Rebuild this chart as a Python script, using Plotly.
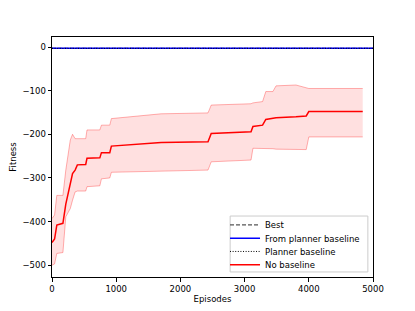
import plotly.graph_objects as go

episodes = [0, 40, 75, 170, 215, 255, 285, 320, 360, 395, 525, 545, 745, 770, 900, 925,
            1700, 2430, 2480, 3100, 3130, 3280, 3330, 3440, 3490, 3800, 3960, 4000, 4840]
mean_no_baseline = [-448, -440, -408, -404, -360, -335, -317, -290, -282, -270, -269, -255, -254, -242, -242, -227,
                    -219, -217, -198, -194, -182, -179, -166, -164, -162, -160, -158, -148, -148]
upper_no_baseline = [-393, -385, -340, -340, -282, -240, -213, -200, -210, -210, -210, -190, -190, -179, -179, -164,
                     -153, -151, -133, -130, -128, -125, -102, -102, -89, -87, -93, -95, -95]
lower_no_baseline = [-500, -497, -473, -471, -389, -379, -370, -351, -332, -330, -330, -320, -318, -302, -300, -287,
                     -284, -282, -263, -259, -232, -232, -233, -233, -234, -235, -235, -206, -206]

flat_episodes = [0, 5000]
best = [-3, -3]
from_planner = [-3, -3]
planner = [-3, -3]

font = "DejaVu Sans"
fig = go.Figure()

# band
fig.add_trace(go.Scatter(x=episodes, y=lower_no_baseline, mode="lines",
                         line=dict(color="rgba(255,0,0,0.3)", width=1), showlegend=False, hoverinfo="skip"))
fig.add_trace(go.Scatter(x=episodes, y=upper_no_baseline, mode="lines", fill="tonexty",
                         fillcolor="rgba(255,0,0,0.12)",
                         line=dict(color="rgba(255,0,0,0.3)", width=1), showlegend=False, hoverinfo="skip"))

fig.add_trace(go.Scatter(x=flat_episodes, y=best, mode="lines", name="Best", legend="legend",
                         line=dict(color="#555555", width=1.2, dash="4px,2px")))
fig.add_trace(go.Scatter(x=flat_episodes, y=from_planner, mode="lines", name="From planner baseline",
                         legend="legend2", line=dict(color="blue", width=1.5)))
fig.add_trace(go.Scatter(x=flat_episodes, y=planner, mode="lines", name="Planner baseline",
                         legend="legend3", line=dict(color="black", width=1, dash="1px,1.6px")))
fig.add_trace(go.Scatter(x=episodes, y=mean_no_baseline, mode="lines", name="No baseline",
                         legend="legend4", line=dict(color="red", width=1.5)))

legend_x = 0.539
legend_common = dict(x=legend_x, xanchor="left", yanchor="middle", bgcolor="rgba(0,0,0,0)",
                     borderwidth=0, font=dict(size=8.5), itemwidth=30)

fig.update_layout(
    width=407, height=303,
    margin=dict(l=44, r=42, t=29, b=34),
    paper_bgcolor="white", plot_bgcolor="white",
    font=dict(family=font, size=8.5, color="black"),
    legend=dict(y=0.217, **legend_common),
    legend2=dict(y=0.1615, **legend_common),
    legend3=dict(y=0.1065, **legend_common),
    legend4=dict(y=0.051, **legend_common),
    shapes=[dict(type="rect", xref="paper", yref="paper", x0=0.555, x1=0.984, y0=0.021, y1=0.254,
                 fillcolor="rgba(255,255,255,0.8)", line=dict(color="#cccccc", width=1), layer="above")],
)
fig.update_xaxes(range=[0, 5000], tickvals=[0, 1000, 2000, 3000, 4000, 5000], automargin=False,
                 showgrid=False, zeroline=False, showline=True, linecolor="black", linewidth=1, mirror=True,
                 ticks="outside", ticklen=3.5, tickcolor="black",
                 title=dict(text="Episodes", font=dict(size=8.5), standoff=3))
fig.update_yaxes(range=[-527, 23], tickvals=[0, -100, -200, -300, -400, -500], automargin=False,
                 showgrid=False, zeroline=False, showline=True, linecolor="black", linewidth=1, mirror=True,
                 ticks="outside", ticklen=3.5, tickcolor="black",
                 title=dict(text="Fitness", font=dict(size=8.5), standoff=4))

fig.write_html("out.html")
